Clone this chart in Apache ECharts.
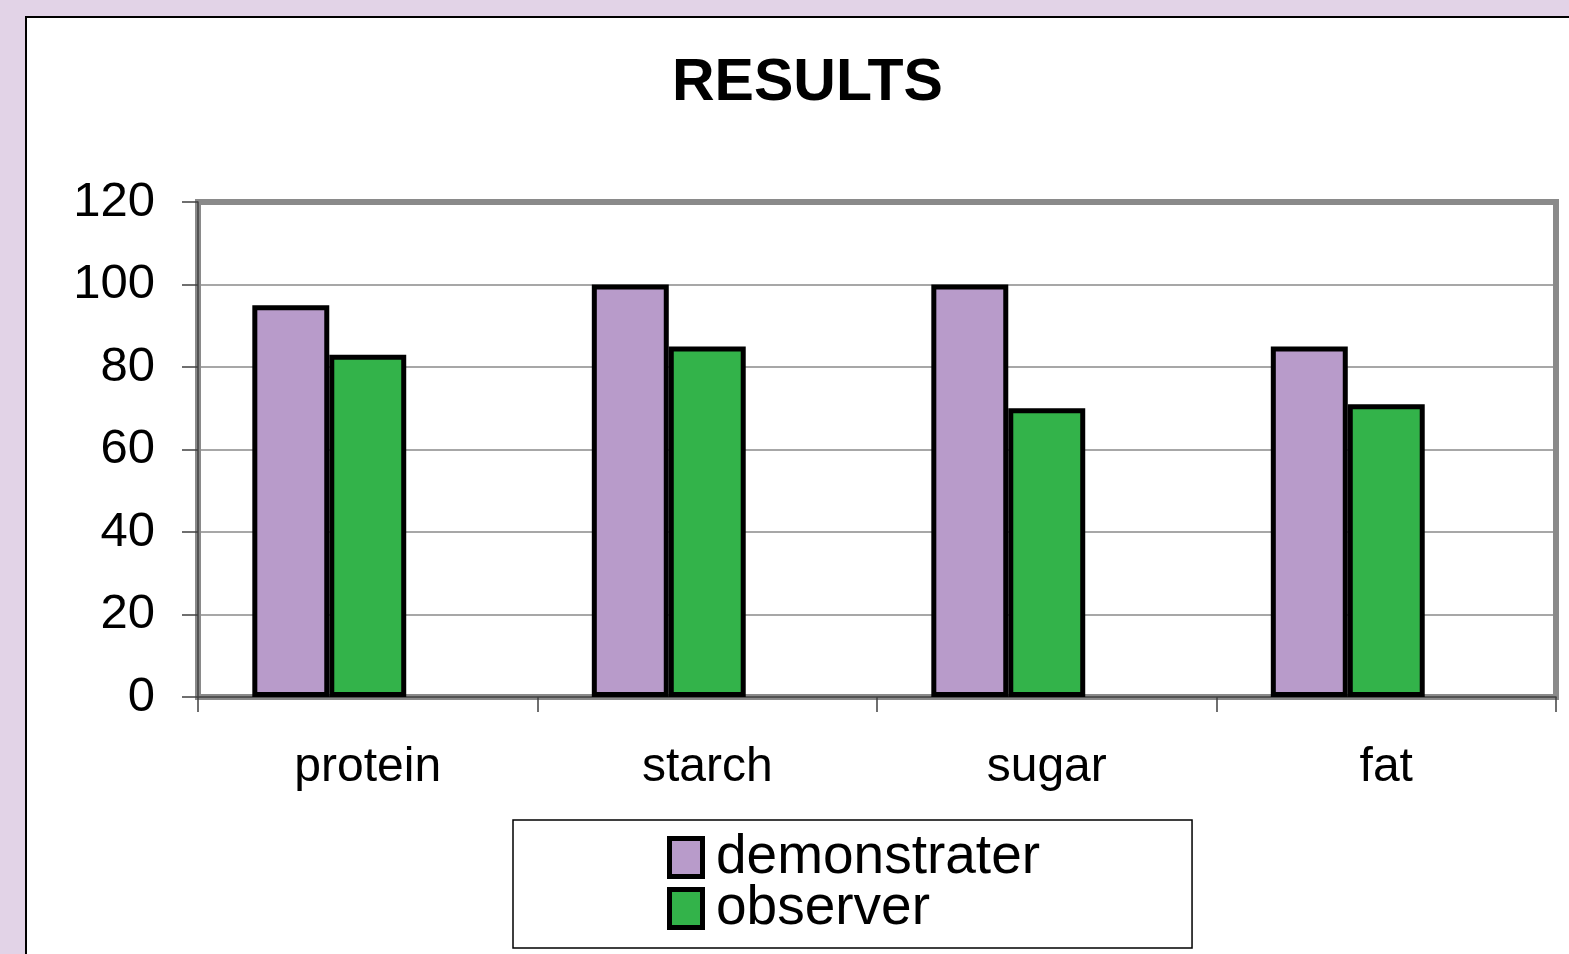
<!DOCTYPE html>
<html>
<head>
<meta charset="utf-8">
<script src="https://cdn.jsdelivr.net/npm/echarts@6/dist/echarts.min.js"></script>
<style>
html,body{margin:0;padding:0;background:#e2d3e7;}
#chart{width:1569px;height:954px;}
</style>
</head>
<body>
<div id="chart"></div>
<script>
const categories = ['protein', 'starch', 'sugar', 'fat'];
const demonstrater = [95, 100, 100, 85];
const observer = [83, 85, 70, 71];
const yTicks = [0, 20, 40, 60, 80, 100, 120];

const FONT = '"Liberation Sans", Arial, sans-serif';
const PURPLE = '#b89bca', GREEN = '#33b34a';
const chart = echarts.init(document.getElementById('chart'));
chart.setOption({
  backgroundColor: '#e2d3e7',
  animation: false,
  graphic: [{
    type: 'rect', z: -100, silent: true,
    shape: { x: 26, y: 17, width: 1600, height: 1000 },
    style: { fill: '#ffffff', stroke: '#000000', lineWidth: 2 }
  }],
  title: {
    text: 'RESULTS',
    left: 667, top: 49,
    textStyle: { fontFamily: FONT, fontWeight: 'bold', fontSize: 59, color: '#000' }
  },
  grid: {
    left: 198, top: 202, width: 1358, height: 495,
    show: true, borderColor: '#8a8a8a', borderWidth: 6, backgroundColor: 'transparent'
  },
  legend: {
    data: ['demonstrater', 'observer'],
    orient: 'vertical',
    left: 513, top: 820,
    padding: [10, 152, 12, 153],
    borderColor: '#000', borderWidth: 1.5,
    itemGap: -4,
    itemWidth: 0, itemHeight: 34,
    icon: 'rect',
    itemStyle: { opacity: 0 },
    formatter: name => (name === 'demonstrater' ? '{a|}' : '{b|}') + '{t|' + name + '}',
    textStyle: {
      fontFamily: FONT, fontSize: 55, color: '#000', lineHeight: 50,
      rich: {
        a: { width: 28, height: 33, backgroundColor: PURPLE, borderColor: '#000', borderWidth: 5, verticalAlign: 'middle' },
        b: { width: 28, height: 33, backgroundColor: GREEN, borderColor: '#000', borderWidth: 5, verticalAlign: 'middle' },
        t: { fontFamily: FONT, fontSize: 55, color: '#000', lineHeight: 50, padding: [0, 0, 0, 16] }
      }
    }
  },
  xAxis: {
    type: 'category',
    data: categories,
    axisLine: { show: true, lineStyle: { color: '#404040', width: 1.5 } },
    axisTick: { show: true, length: 15, lineStyle: { color: '#404040', width: 1.5 } },
    axisLabel: { fontFamily: FONT, fontSize: 48, color: '#000', margin: 47 }
  },
  yAxis: {
    type: 'value',
    min: 0, max: 120, interval: 20,
    axisLine: { show: true, lineStyle: { color: '#404040', width: 1.5 } },
    axisTick: { show: true, length: 16, lineStyle: { color: '#404040', width: 1.5 } },
    splitLine: { show: true, lineStyle: { color: '#8a8a8a', width: 1.5 } },
    axisLabel: {
      fontFamily: FONT, fontSize: 49, color: '#000', margin: 43,
      formatter: v => yTicks.includes(v) ? String(v) : ''
    }
  },
  series: [
    {
      name: 'demonstrater', type: 'bar', data: demonstrater,
      barGap: '0%', barCategoryGap: '32%',
      itemStyle: { color: PURPLE, borderColor: '#000', borderWidth: 5 }
    },
    {
      name: 'observer', type: 'bar', data: observer,
      itemStyle: { color: GREEN, borderColor: '#000', borderWidth: 5 }
    },
    {
      name: 'spacer', type: 'bar', data: [],
      itemStyle: { color: 'transparent' }
    }
  ]
});
</script>
</body>
</html>
